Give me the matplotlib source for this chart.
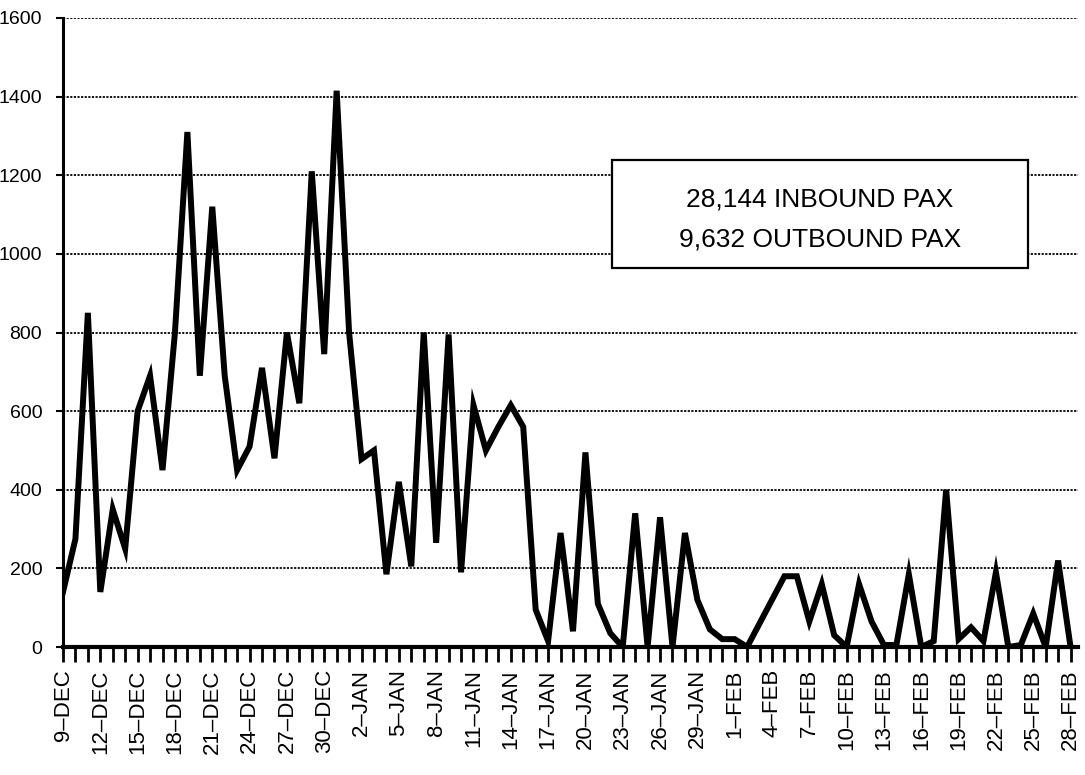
import matplotlib
matplotlib.use("Agg")
import matplotlib.pyplot as plt
from matplotlib.patches import Rectangle

plt.rcParams['font.family'] = ['Liberation Sans', 'DejaVu Sans']

# daily passengers, 9-DEC .. 28-FEB
pax = [140, 275, 850, 140, 350, 250, 600, 690, 450, 800,
       1310, 690, 1120, 690, 450, 510, 710, 480, 800, 620,
       1210, 745, 1415, 800, 478, 500, 185, 420, 205, 800,
       265, 795, 190, 615, 500, 560, 615, 560, 95, 15,
       290, 40, 495, 110, 35, 0, 340, 0, 330, 0,
       290, 120, 45, 20, 20, 0, 60, 120, 180, 180,
       65, 160, 30, 0, 160, 65, 5, 5, 185, 0,
       15, 400, 20, 50, 15, 190, 0, 5, 85, 0,
       220, 0]

tick_labels = ['9–DEC', '12–DEC', '15–DEC', '18–DEC', '21–DEC', '24–DEC',
               '27–DEC', '30–DEC', '2–JAN', '5–JAN', '8–JAN', '11–JAN',
               '14–JAN', '17–JAN', '20–JAN', '23–JAN', '26–JAN', '29–JAN',
               '1–FEB', '4–FEB', '7–FEB', '10–FEB', '13–FEB', '16–FEB',
               '19–FEB', '22–FEB', '25–FEB', '28–FEB']
label_step = 3

y_ticks = [0, 200, 400, 600, 800, 1000, 1200, 1400, 1600]
box_lines = ["28,144 INBOUND PAX", "9,632 OUTBOUND PAX"]

fig = plt.figure(figsize=(10.85, 7.75), dpi=100)
ax = fig.add_axes([63 / 1085, 1 - 647 / 775, (1078 - 63) / 1085, (647 - 18) / 775])

days = list(range(len(pax)))
ax.plot(days, pax, color='black', lw=4.3, solid_joinstyle='miter', zorder=3)

ax.set_xlim(0, len(pax) - 0.4)
ax.set_ylim(0, 1600)

ax.set_yticks(y_ticks)
ax.set_yticklabels([str(v) for v in y_ticks], fontsize=14)
ax.yaxis.grid(True, color='black', lw=1.3, linestyle=(0, (1.2, 0.8)))
ax.set_axisbelow(True)

labels = ['' for _ in days]
for k, lab in enumerate(tick_labels):
    labels[k * label_step] = lab
ax.set_xticks(days)
ax.set_xticklabels(labels, rotation=90, fontsize=16)
ax.tick_params(axis='x', direction='out', length=11, width=2, pad=5)
ax.tick_params(axis='y', direction='out', length=5, width=1.5, pad=10)

for s in ['top', 'right']:
    ax.spines[s].set_visible(False)
ax.spines['left'].set_linewidth(2.2)
ax.spines['bottom'].set_linewidth(3)

# annotation box
ax.add_patch(Rectangle((0.5409, 0.6025), 0.4099, 0.1717, transform=ax.transAxes,
                       facecolor='white', edgecolor='black', lw=1.6, zorder=4))
ax.text(0.7458, 0.7107, box_lines[0], transform=ax.transAxes, ha='center',
        va='center', fontsize=19, zorder=5)
ax.text(0.7458, 0.6471, box_lines[1], transform=ax.transAxes, ha='center',
        va='center', fontsize=19, zorder=5)

fig.savefig('out.png', dpi=100)
